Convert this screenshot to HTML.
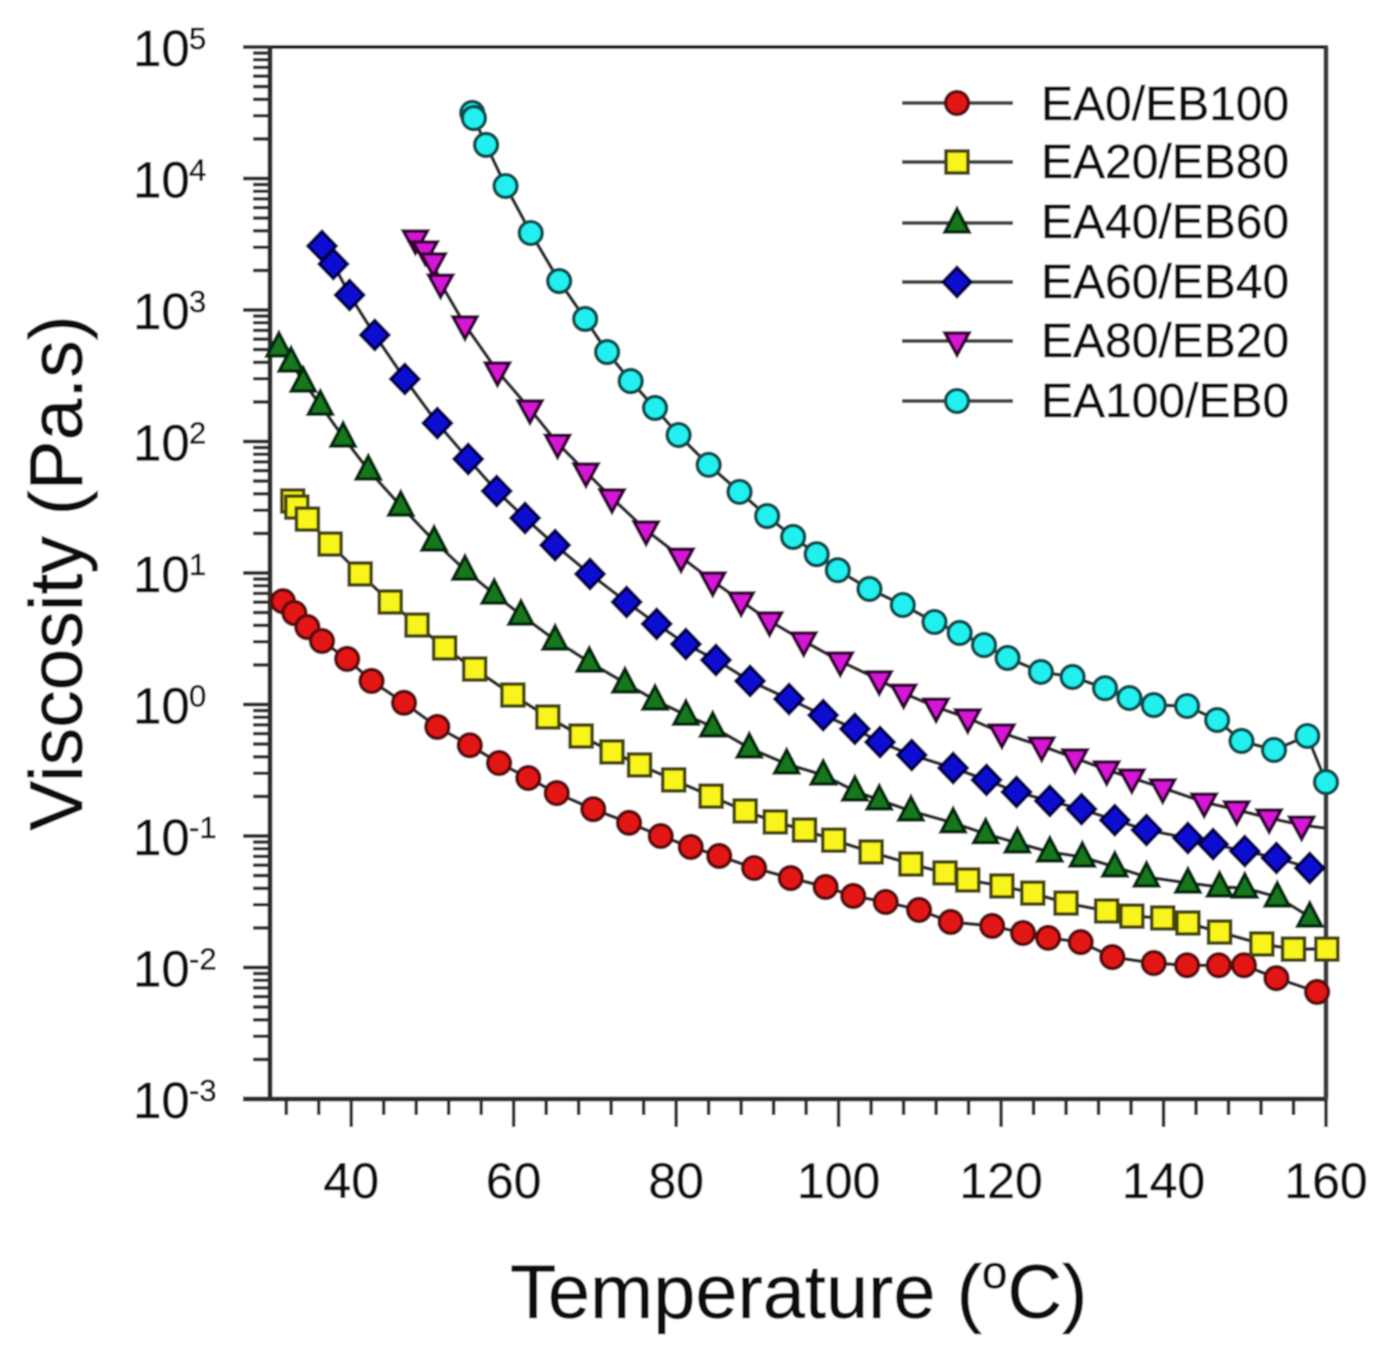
<!DOCTYPE html>
<html lang="en">
<head>
<meta charset="utf-8">
<title>Viscosity vs Temperature</title>
<style>
html,body{margin:0;padding:0;background:#fff;}
#chart{display:block;width:1398px;height:1354px;font-family:"Liberation Sans",Arial,sans-serif;}
#chart text{fill:#111;stroke:#111;stroke-width:0.6px;}
</style>
</head>
<body>
<svg id="chart" xmlns="http://www.w3.org/2000/svg" width="1398" height="1354" viewBox="0 0 1398 1354">
  <defs>
    <filter id="soft" x="-2%" y="-2%" width="104%" height="104%"><feGaussianBlur stdDeviation="0.7"/></filter>
  </defs>
  <g id="root" filter="url(#soft)">
    <rect width="1398" height="1354" fill="#fff"/>
    <g id="axes"></g>
    <g id="series"></g>
    <g id="legend"></g>
    <text x="82" y="573" transform="rotate(-90 82 573)" text-anchor="middle" font-size="75">Viscosity (Pa.s)</text>
    <text x="510" y="1318" font-size="75.8">Temperature (<tspan font-size="46" dy="-30">o</tspan><tspan dy="30">C)</tspan></text>
  </g>
</svg>
<script>
const seriesNames = ["EA0/EB100","EA20/EB80","EA40/EB60","EA60/EB40","EA80/EB20","EA100/EB0"];

const xTickLabels = [40,60,80,100,120,140,160];
const xMinorTicks = [32,36,44,48,52,56,64,68,72,76,84,88,92,96,104,108,112,116,124,128,132,136,144,148,152,156];
const yDecades = [5,4,3,2,1,0,-1,-2,-3];

const ea0Temp = [31.6,33.0,34.6,36.4,39.5,42.5,46.5,50.6,54.6,58.2,61.8,65.3,69.8,74.2,78.1,81.8,85.3,89.6,94.1,98.4,101.8,105.8,109.9,113.8,118.9,122.7,125.8,129.8,133.7,138.8,142.9,146.8,149.9,153.9,158.9];
const ea0Visc = [6.1,4.96,3.88,3.04,2.22,1.51,1.03,0.675,0.49,0.359,0.276,0.212,0.16,0.126,0.1,0.0825,0.0705,0.0571,0.0479,0.041,0.035,0.0315,0.0274,0.0222,0.0207,0.0183,0.0168,0.0156,0.012,0.0108,0.0104,0.0104,0.0104,0.0083,0.00652];

const ea20Temp = [32.8,33.3,34.6,37.4,41.1,44.8,48.1,51.5,55.2,59.9,64.2,68.3,72.1,75.5,79.7,84.3,88.5,92.2,95.8,99.4,104.0,108.9,113.1,115.9,120.1,123.9,128.0,133.0,136.1,139.9,143.0,146.9,152.1,156.0,160.1];
const ea20Visc = [35.3,31.7,25.7,16.6,9.83,6.02,4.02,2.69,1.86,1.18,0.804,0.576,0.436,0.347,0.267,0.201,0.155,0.128,0.111,0.093,0.0756,0.0612,0.0524,0.0463,0.0417,0.0368,0.0309,0.0269,0.0246,0.0238,0.0218,0.0186,0.0151,0.0138,0.0138];

const ea40Temp = [31.1,32.6,34.1,36.2,39.0,42.1,46.1,50.2,54.0,57.6,60.9,65.1,69.3,73.7,77.4,81.2,84.5,89.0,93.6,98.1,102.0,105.0,108.9,114.1,118.1,122.0,126.0,130.0,134.0,137.9,143.0,146.9,150.0,154.0,158.0];
const ea40Visc = [524,402,283,189,108,60.7,32.3,17.5,10.5,6.92,4.79,3.09,2.1,1.46,1.08,0.83,0.675,0.467,0.353,0.291,0.22,0.188,0.155,0.126,0.104,0.0885,0.0756,0.0692,0.0582,0.0488,0.0439,0.041,0.0402,0.0344,0.0242];

const ea60Temp = [36.4,37.8,39.8,42.9,46.6,50.6,54.4,57.9,61.4,65.1,69.4,73.9,77.6,81.2,84.9,89.1,93.9,98.1,102.0,105.1,109.0,114.1,118.2,121.9,126.0,129.9,134.0,137.9,143.0,146.1,150.0,153.9,158.0];
const ea60Visc = [3070,2240,1300,646,299,138,73.6,42.0,26.2,16.3,9.83,6.02,4.1,2.88,2.18,1.51,1.1,0.83,0.653,0.518,0.413,0.329,0.267,0.216,0.185,0.16,0.132,0.111,0.0966,0.0867,0.0768,0.0681,0.0571];

const ea80Temp = [47.9,49.1,50.1,51.0,54.0,58.0,62.0,65.4,68.9,72.1,76.3,80.6,84.5,88.0,91.5,95.7,100.2,105.0,108.0,112.0,115.9,120.1,125.0,129.1,133.0,136.1,139.9,145.0,149.0,153.0,157.0];
const ea80Visc = [3460,2860,2320,1600,770,343,177,97,58.6,37.2,21.2,13.2,8.68,6.12,4.32,3.04,2.14,1.54,1.22,0.955,0.79,0.607,0.483,0.392,0.318,0.276,0.232,0.181,0.158,0.137,0.121];
const ea80TailTemp = [159.8];
const ea80TailVisc = [0.115];

const ea100Temp = [54.9,55.1,56.6,59.0,62.1,65.6,68.8,71.5,74.4,77.4,80.3,84.0,87.8,91.2,94.4,97.3,99.9,103.8,107.9,111.8,114.9,117.9,120.8,124.9,128.8,132.8,135.8,138.8,142.9,146.6,149.6,153.6,157.7,160.0];
const ea100Visc = [31500,28800,18000,8770,3850,1660,855,479,288,180,112,66.4,41.4,27.1,18.8,13.9,10.5,7.56,5.71,4.24,3.5,2.83,2.26,1.77,1.62,1.33,1.12,0.99,0.974,0.762,0.528,0.451,0.576,0.257];

const NS = "http://www.w3.org/2000/svg";
const plot = {left:270, right:1326, top:47, bottom:1099, xMin:30, xMax:160, logMin:-3, logMax:5};

function xScale(t){ return plot.left + (t - plot.xMin) * (plot.right - plot.left) / (plot.xMax - plot.xMin); }
function yScale(v){ return plot.bottom - (Math.log10(v) - plot.logMin) * (plot.bottom - plot.top) / (plot.logMax - plot.logMin); }

function make(tag, attrs, parent){
  const el = document.createElementNS(NS, tag);
  for (const k in attrs) el.setAttribute(k, attrs[k]);
  parent.appendChild(el);
  return el;
}

function marker(shape, cx, cy, fill, stroke, parent){
  const sw = 3.6;
  if (shape === "circle") return make("circle", {cx:cx, cy:cy, r:11.5, fill:fill, stroke:stroke, "stroke-width":sw}, parent);
  if (shape === "square") return make("rect", {x:cx-11, y:cy-11, width:22, height:22, fill:fill, stroke:stroke, "stroke-width":sw}, parent);
  let pts;
  if (shape === "up") pts = [[cx,cy-14],[cx+12,cy+9],[cx-12,cy+9]];
  if (shape === "down") pts = [[cx-12,cy-8],[cx+12,cy-8],[cx,cy+14]];
  if (shape === "diamond") pts = [[cx,cy-14.5],[cx+14,cy],[cx,cy+14.5],[cx-14,cy]];
  return make("polygon", {points:pts.map(p => p.join(",")).join(" "), fill:fill, stroke:stroke, "stroke-width":sw, "stroke-linejoin":"miter"}, parent);
}

const axes = document.getElementById("axes");
const axisColor = "#2e2e2e";

const frameTop = make("line", {x1:243, x2:plot.right+2, y1:plot.top, y2:plot.top, stroke:"#000", "stroke-width":3.5}, axes);


const frameBottom = make("line", {x1:243, x2:plot.right+2, y1:plot.bottom, y2:plot.bottom, stroke:axisColor, "stroke-width":5}, axes);


const frameLeft = make("line", {x1:plot.left, x2:plot.left, y1:plot.top, y2:plot.bottom, stroke:axisColor, "stroke-width":5}, axes);


const frameRight = make("line", {x1:plot.right, x2:plot.right, y1:plot.top, y2:plot.bottom, stroke:"#3c3c3c", "stroke-width":5}, axes);



xMinorTicks.forEach(t => {
  const tick = make("line", {x1:xScale(t), x2:xScale(t), y1:plot.bottom, y2:1115, stroke:axisColor, "stroke-width":3.6}, axes);
  
  
});
xTickLabels.forEach(t => {
  const tick = make("line", {x1:xScale(t), x2:xScale(t), y1:plot.bottom, y2:1127, stroke:axisColor, "stroke-width":3.6}, axes);
  
  
  const label = make("text", {x:xScale(t), y:1198, "text-anchor":"middle", "font-size":50}, axes);
  label.textContent = String(t);
  
  
});

yDecades.forEach(d => {
  const y = yScale(Math.pow(10, d));
  const tick = make("line", {x1:243, x2:plot.left, y1:y, y2:y, stroke:axisColor, "stroke-width":4}, axes);
  
  
  if (d > plot.logMin) {
    for (let m = 2; m <= 9; m++) {
      const my = yScale(m * Math.pow(10, d - 1));
      const minor = make("line", {x1:253, x2:plot.left, y1:my, y2:my, stroke:axisColor, "stroke-width":3.6}, axes);
      
      
    }
  }
  const base = make("text", {x:133, y:y+19, "font-size":51}, axes);
  base.textContent = "10";
  
  
  const exp = make("text", {x:189, y:y+2, "font-size":31}, axes);
  exp.textContent = String(d);
  
  
});

const styles = [
  {shape:"circle",  fill:"#e31212", stroke:"#5a0808"},
  {shape:"square",  fill:"#f8f41e", stroke:"#45450a"},
  {shape:"up",      fill:"#14771a", stroke:"#062c08"},
  {shape:"diamond", fill:"#0b0bd2", stroke:"#03034e"},
  {shape:"down",    fill:"#d516d5", stroke:"#360536"},
  {shape:"circle",  fill:"#22f0ee", stroke:"#0a4e50"}
];
const seriesTemps = [ea0Temp, ea20Temp, ea40Temp, ea60Temp, ea80Temp, ea100Temp];
const seriesViscs = [ea0Visc, ea20Visc, ea40Visc, ea60Visc, ea80Visc, ea100Visc];
const seriesKeys = ["ea0-eb100","ea20-eb80","ea40-eb60","ea60-eb40","ea80-eb20","ea100-eb0"];

const seriesGroup = document.getElementById("series");
seriesNames.forEach((name, i) => {
  const g = make("g", {}, seriesGroup);
  
  
  const temps = seriesTemps[i];
  const viscs = seriesViscs[i];
  const pts = temps.map((t, k) => [xScale(t), yScale(viscs[k])]);
  if (i === 4) ea80TailTemp.forEach((t, k) => pts.push([xScale(t), yScale(ea80TailVisc[k])]));
  const line = make("polyline", {points:pts.map(p => p[0].toFixed(1) + "," + p[1].toFixed(1)).join(" "), fill:"none", stroke:"#2a2a2a", "stroke-width":3.6}, g);
  
  
  temps.forEach((t, k) => {
    const m = marker(styles[i].shape, xScale(t), yScale(viscs[k]), styles[i].fill, styles[i].stroke, g);
    
    
  });
});

const legend = document.getElementById("legend");
const legendLineY = [103,162,223,282,341,401];
const legendTextY = [120,178,238,298,357,417];
seriesNames.forEach((name, i) => {
  const g = make("g", {}, legend);
  
  
  const ln = make("line", {x1:902, x2:1013, y1:legendLineY[i], y2:legendLineY[i], stroke:"#444", "stroke-width":4}, g);
  
  
  const m = marker(styles[i].shape, 957, legendLineY[i], styles[i].fill, styles[i].stroke, g);
  
  
  const tx = make("text", {x:1041, y:legendTextY[i], "font-size":48}, g);
  tx.textContent = name;
  
  
});
</script>
</body>
</html>
